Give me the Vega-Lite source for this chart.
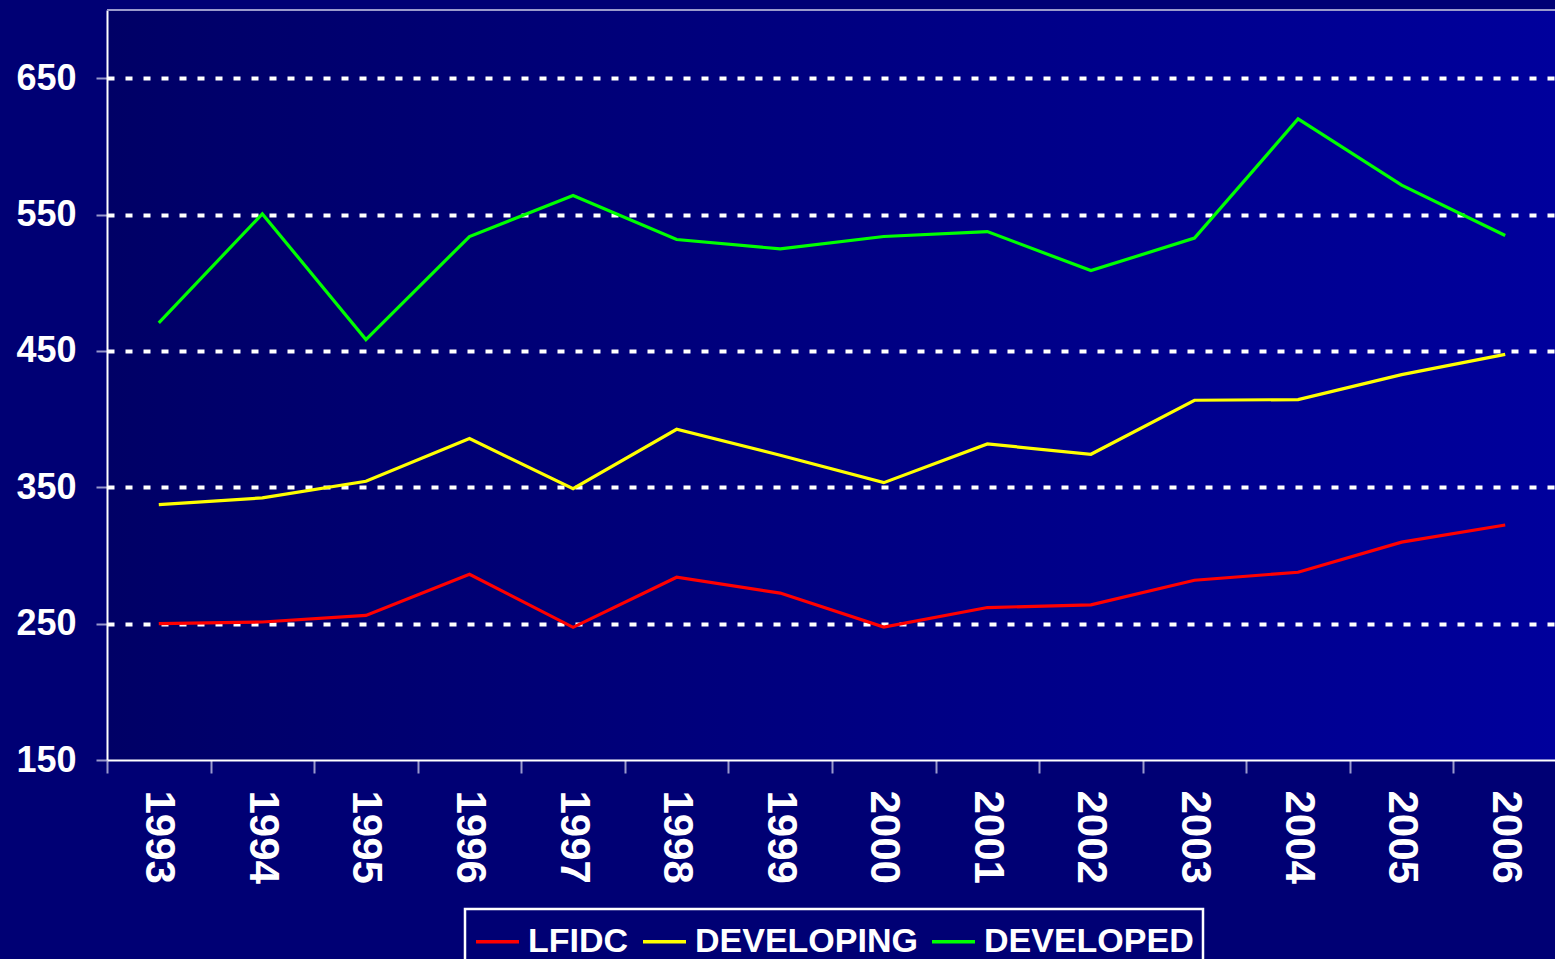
{
  "$schema": "https://vega.github.io/schema/vega-lite/v6.json",
  "autosize": {"type": "none"},
  "width": 1450,
  "height": 750,
  "padding": {"left": 107, "top": 10, "right": 0, "bottom": 199},
  "background": "#000074",
  "view": {
    "stroke": null,
    "fill": {
      "gradient": "linear",
      "x1": 0, "y1": 0, "x2": 1, "y2": 0,
      "stops": [
        {"offset": 0, "color": "#000066"},
        {"offset": 1, "color": "#00009c"}
      ]
    }
  },
  "config": {
    "font": "Liberation Sans",
    "axis": {
      "labelFont": "Liberation Sans",
      "labelFontWeight": "bold",
      "labelColor": "#ffffff",
      "domainColor": "#ffffff",
      "domainWidth": 2,
      "tickColor": "#9a9acc",
      "tickWidth": 2,
      "title": null
    },
    "legend": {
      "strokeWidth": 2.5
    }
  },
  "data": {
    "values": [
      {"year": "1993", "series": "LFIDC", "value": 250.0},
      {"year": "1994", "series": "LFIDC", "value": 251.2},
      {"year": "1995", "series": "LFIDC", "value": 256.0},
      {"year": "1996", "series": "LFIDC", "value": 286.2},
      {"year": "1997", "series": "LFIDC", "value": 247.3},
      {"year": "1998", "series": "LFIDC", "value": 284.0},
      {"year": "1999", "series": "LFIDC", "value": 272.4},
      {"year": "2000", "series": "LFIDC", "value": 247.5},
      {"year": "2001", "series": "LFIDC", "value": 261.8},
      {"year": "2002", "series": "LFIDC", "value": 263.8},
      {"year": "2003", "series": "LFIDC", "value": 281.8},
      {"year": "2004", "series": "LFIDC", "value": 287.7},
      {"year": "2005", "series": "LFIDC", "value": 309.8},
      {"year": "2006", "series": "LFIDC", "value": 322.3},
      {"year": "1993", "series": "DEVELOPING", "value": 337.3},
      {"year": "1994", "series": "DEVELOPING", "value": 342.2},
      {"year": "1995", "series": "DEVELOPING", "value": 354.4},
      {"year": "1996", "series": "DEVELOPING", "value": 385.7},
      {"year": "1997", "series": "DEVELOPING", "value": 349.0},
      {"year": "1998", "series": "DEVELOPING", "value": 392.5},
      {"year": "1999", "series": "DEVELOPING", "value": 373.5},
      {"year": "2000", "series": "DEVELOPING", "value": 353.4},
      {"year": "2001", "series": "DEVELOPING", "value": 381.8},
      {"year": "2002", "series": "DEVELOPING", "value": 374.2},
      {"year": "2003", "series": "DEVELOPING", "value": 413.8},
      {"year": "2004", "series": "DEVELOPING", "value": 414.3},
      {"year": "2005", "series": "DEVELOPING", "value": 432.6},
      {"year": "2006", "series": "DEVELOPING", "value": 447.5},
      {"year": "1993", "series": "DEVELOPED", "value": 470.6},
      {"year": "1994", "series": "DEVELOPED", "value": 550.5},
      {"year": "1995", "series": "DEVELOPED", "value": 458.3},
      {"year": "1996", "series": "DEVELOPED", "value": 533.9},
      {"year": "1997", "series": "DEVELOPED", "value": 563.9},
      {"year": "1998", "series": "DEVELOPED", "value": 531.7},
      {"year": "1999", "series": "DEVELOPED", "value": 524.8},
      {"year": "2000", "series": "DEVELOPED", "value": 533.9},
      {"year": "2001", "series": "DEVELOPED", "value": 537.5},
      {"year": "2002", "series": "DEVELOPED", "value": 508.9},
      {"year": "2003", "series": "DEVELOPED", "value": 532.7},
      {"year": "2004", "series": "DEVELOPED", "value": 620.1},
      {"year": "2005", "series": "DEVELOPED", "value": 571.6},
      {"year": "2006", "series": "DEVELOPED", "value": 534.6}
    ]
  },
  "layer": [
    {
      "mark": {"type": "rule", "color": "#9a9acc", "strokeWidth": 2},
      "encoding": {"y": {"datum": 700, "type": "quantitative"}}
    },
    {
      "mark": {"type": "line", "strokeWidth": 3.2},
      "encoding": {
        "x": {
          "field": "year",
          "type": "ordinal",
          "bandPosition": 0.5,
          "scale": {"type": "band", "paddingInner": 0, "paddingOuter": 0},
          "axis": {
            "labelAngle": 90,
            "labelFontSize": 42,
            "labelPadding": 17,
            "tickSize": 13,
            "tickBand": "extent",
            "grid": false
          }
        },
        "y": {
          "field": "value",
          "type": "quantitative",
          "scale": {"domain": [150, 700], "nice": false, "zero": false},
          "axis": {
            "values": [150, 250, 350, 450, 550, 650],
            "labelFontSize": 36,
            "labelPadding": 20,
            "tickSize": 11,
            "grid": true,
            "gridColor": "#ffffff",
            "gridWidth": 4,
            "gridDash": [7, 11],
            "gridOpacity": {"condition": {"test": "datum.value == 150", "value": 0}, "value": 1}
          }
        },
        "color": {
          "field": "series",
          "type": "nominal",
          "scale": {
            "domain": ["LFIDC", "DEVELOPING", "DEVELOPED"],
            "range": ["#ff0000", "#ffff00", "#00ff00"]
          },
          "legend": {
            "title": null,
            "orient": "none",
            "legendX": 358,
            "legendY": 899,
            "direction": "horizontal",
            "symbolType": "stroke",
            "symbolSize": 1849,
            "symbolStrokeWidth": 3.5,
            "labelFont": "Liberation Sans",
            "labelFontWeight": "bold",
            "labelFontSize": 34,
            "labelColor": "#ffffff",
            "labelOffset": 7,
            "labelLimit": 400,
            "columnPadding": 7,
            "padding": 9,
            "strokeColor": "#ffffff"
          }
        }
      }
    }
  ]
}
